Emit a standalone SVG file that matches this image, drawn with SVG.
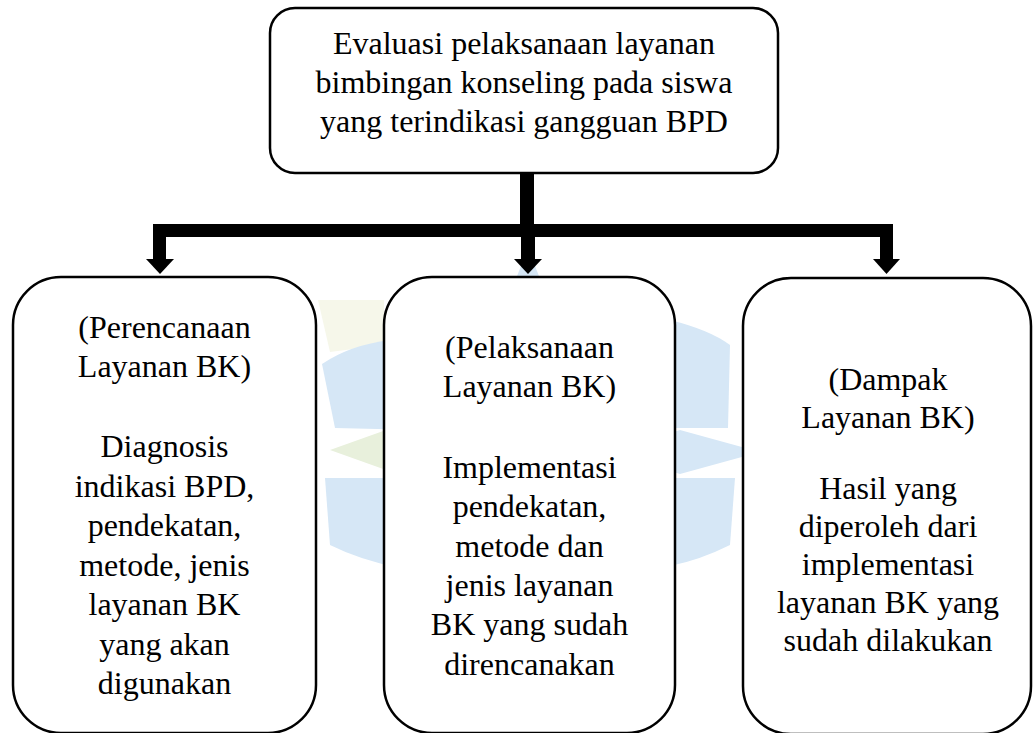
<svg xmlns="http://www.w3.org/2000/svg" width="1035" height="733" viewBox="0 0 1035 733">
<style>
.box{fill:#ffffff;stroke:#000000;stroke-width:2.5}
.t{font-family:"Liberation Serif","Times New Roman",serif;font-size:32px;fill:#000000;text-anchor:middle}
.wb{fill:#d6e7f6}
.wg{fill:#e8f0dc}
.wy{fill:#f6f7ea}
</style>
<rect width="1035" height="733" fill="#ffffff"/>
<g id="watermark">
<polygon class="wb" points="528,248 560,330 528,420 496,330"/>
<polygon class="wy" points="318,300 384,300 384,345 330,352"/>
<path class="wb" d="M322,364 Q350,345 390,340 L420,430 L335,428 Z"/>
<polygon class="wg" points="330,450 400,425 470,450 400,475"/>
<path class="wb" d="M325,478 L410,478 L400,568 Q360,560 330,545 Z"/>
<path class="wb" d="M670,320 Q710,330 730,345 L728,428 L640,428 Z"/>
<polygon class="wb" points="760,452 680,430 610,452 680,474"/>
<path class="wb" d="M640,478 L735,478 L730,545 Q700,560 670,566 Z"/>
</g>
<g id="connectors">
<rect x="520" y="173" width="14" height="64"/>
<rect x="153" y="224" width="740" height="13"/>
<rect x="153" y="224" width="13" height="36"/>
<polygon points="146,259 174,259 160,274"/>
<rect x="521" y="237" width="14" height="23"/>
<polygon points="514,259 542,259 528,274"/>
<rect x="880" y="224" width="13" height="36"/>
<polygon points="873,259 900,259 886.5,274"/>
</g>
<g id="node-top">
<rect class="box" x="270" y="8" width="508" height="165" rx="25"/>
<text class="t" x="524" y="54">Evaluasi pelaksanaan layanan</text>
<text class="t" x="524" y="93">bimbingan konseling pada siswa</text>
<text class="t" x="524" y="132">yang terindikasi gangguan BPD</text>
</g>
<g id="node-perencanaan">
<rect class="box" x="13" y="277" width="303" height="456" rx="48"/>
<text class="t" x="164.5" y="338">(Perencanaan</text>
<text class="t" x="164.5" y="377">Layanan BK)</text>
<text class="t" x="164.5" y="457">Diagnosis</text>
<text class="t" x="164.5" y="497">indikasi BPD,</text>
<text class="t" x="164.5" y="536">pendekatan,</text>
<text class="t" x="164.5" y="576">metode, jenis</text>
<text class="t" x="164.5" y="615">layanan BK</text>
<text class="t" x="164.5" y="655">yang akan</text>
<text class="t" x="164.5" y="694">digunakan</text>
</g>
<g id="node-pelaksanaan">
<rect class="box" x="384" y="277" width="291" height="456" rx="48"/>
<text class="t" x="529.5" y="358">(Pelaksanaan</text>
<text class="t" x="529.5" y="397">Layanan BK)</text>
<text class="t" x="529.5" y="478">Implementasi</text>
<text class="t" x="529.5" y="517">pendekatan,</text>
<text class="t" x="529.5" y="557">metode dan</text>
<text class="t" x="529.5" y="596">jenis layanan</text>
<text class="t" x="529.5" y="635">BK yang sudah</text>
<text class="t" x="529.5" y="675">direncanakan</text>
</g>
<g id="node-dampak">
<rect class="box" x="743" y="278" width="288" height="456" rx="48"/>
<text class="t" x="888" y="390">(Dampak</text>
<text class="t" x="888" y="428">Layanan BK)</text>
<text class="t" x="888" y="499">Hasil yang</text>
<text class="t" x="888" y="537">diperoleh dari</text>
<text class="t" x="888" y="575">implementasi</text>
<text class="t" x="888" y="613">layanan BK yang</text>
<text class="t" x="888" y="651">sudah dilakukan</text>
</g>
</svg>
